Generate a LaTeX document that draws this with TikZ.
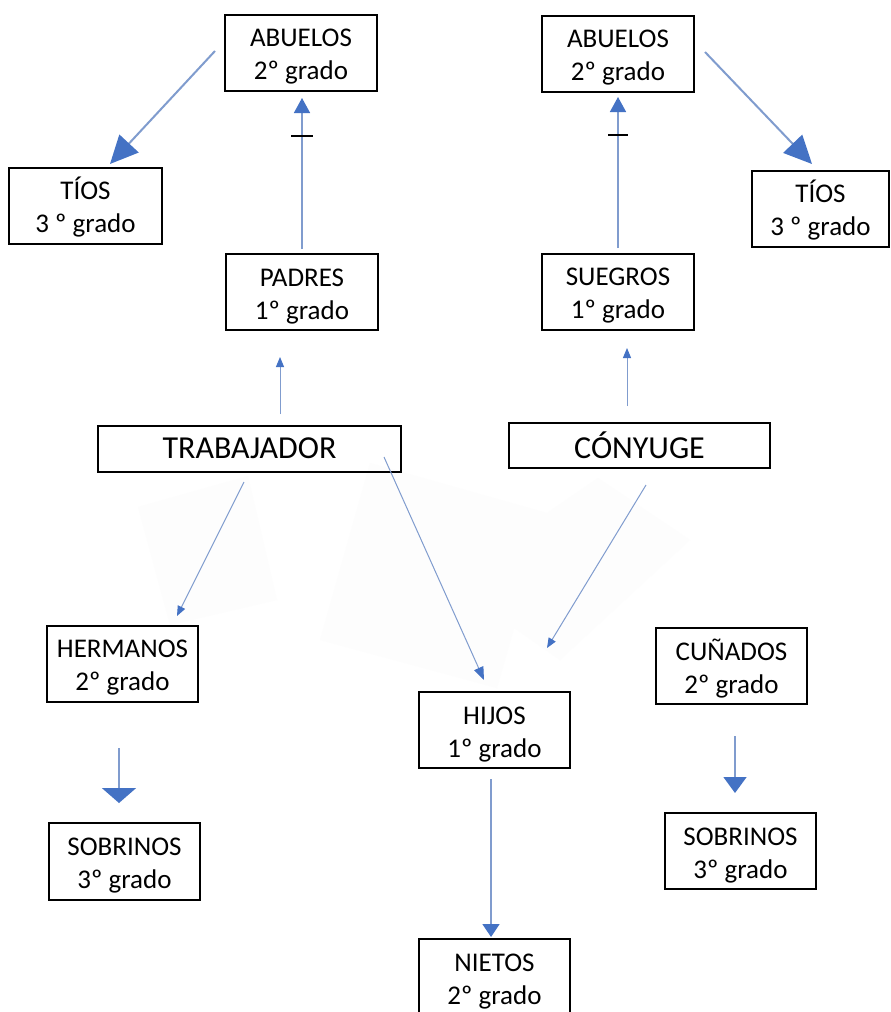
\documentclass[tikz,border=0pt]{standalone}
\usepackage{fontspec}
\setmainfont{Carlito}
\usetikzlibrary{arrows.meta}
\definecolor{lineblue}{RGB}{128,156,206}
\definecolor{headblue}{RGB}{68,114,196}
\definecolor{faint}{RGB}{253,253,253}
\newcommand{\tstrut}{\rule{0pt}{26pt}}
\tikzset{
  box/.style={draw=black, line width=2pt, align=center, inner sep=0pt,
    minimum width=152pt, minimum height=76pt, font=\fontsize{27}{33}\selectfont},
  bigbox/.style={draw=black, line width=2pt, align=center, inner sep=0pt,
    minimum height=46pt, font=\fontsize{32}{38}\selectfont},
  conn/.style={draw=lineblue, line width=1pt},
  tickmark/.style={draw=black, line width=2pt},
}
\begin{document}
\begin{tikzpicture}[x=1pt,y=-1pt]
\useasboundingbox (0,0) rectangle (891,1012);
\clip (0,0) rectangle (891,1012);
\fill[white] (0,0) rectangle (891,1012);
% faint background shapes
\fill[faint] (138,507) -- (248,476) -- (277,600) -- (170,625) -- cycle;
\fill[faint] (370,463) -- (547,513) -- (497,688) -- (320,640) -- cycle;
\fill[faint] (598,478) -- (690,540) -- (560,660) -- (510,625) -- (547,513) -- cycle;
% nodes
\node[box] (abL) at (301,52.5) {\tstrut ABUELOS\\2º grado};
\node[box] (abR) at (618,53.5) {\tstrut ABUELOS\\2º grado};
\node[box, minimum width=153pt] (tiL) at (85.5,205.5) {\tstrut TÍOS\\3 º grado};
\node[box, minimum width=137pt] (tiR) at (820.5,208.5) {\tstrut TÍOS\\3 º grado};
\node[box] (pad) at (302,292) {\tstrut PADRES\\1º grado};
\node[box] (sue) at (618,291.5) {\tstrut SUEGROS\\1º grado};
\node[bigbox, minimum width=303pt] (tra) at (249.5,448.5) {TRABAJADOR};
\node[bigbox, minimum width=261pt, minimum height=45pt] (con) at (639.5,445.5) {CÓNYUGE};
\node[box, minimum width=151pt] (her) at (122.5,663.5) {\tstrut HERMANOS\\2º grado};
\node[box, minimum width=151pt] (cun) at (731.5,666) {\tstrut CUÑADOS\\2º grado};
\node[box, minimum width=151pt] (hij) at (494.5,730) {\tstrut HIJOS\\1º grado};
\node[box, minimum width=151pt, minimum height=77pt] (sobL) at (124.5,861.5) {\tstrut SOBRINOS\\3º grado};
\node[box, minimum width=151pt] (sobR) at (740.5,851) {\tstrut SOBRINOS\\3º grado};
\node[box, minimum width=151pt, minimum height=77pt] (nie) at (494.5,977.5) {\tstrut NIETOS\\2º grado};
% connector end points
\coordinate (c1s) at (215,51);   \coordinate (c1e) at (110,164);
\coordinate (c2s) at (302,249);  \coordinate (c2e) at (302,98);
\coordinate (c3s) at (618,248);  \coordinate (c3e) at (618,97);
\coordinate (c4s) at (705,52);   \coordinate (c4e) at (812,164);
\coordinate (c5s) at (280,414);  \coordinate (c5e) at (280,357);
\coordinate (c6s) at (627,406);  \coordinate (c6e) at (627,348);
\coordinate (c7s) at (244,482);  \coordinate (c7e) at (177,616);
\coordinate (c8s) at (384,457);  \coordinate (c8e) at (484,680);
\coordinate (c9s) at (646,485);  \coordinate (c9e) at (547,648);
\coordinate (c10s) at (119,748); \coordinate (c10e) at (119,803);
\coordinate (c11s) at (735,736); \coordinate (c11e) at (735,793);
\coordinate (c12s) at (491,779); \coordinate (c12e) at (491,937);
% connectors
\draw[conn, line width=2pt, -{Triangle[length=28pt,width=26pt,color=headblue]}] (c1s) -- (c1e);
\draw[conn, line width=1.5pt, -{Triangle[length=15pt,width=16pt,color=headblue]}] (c2s) -- (c2e);
\draw[conn, line width=1.5pt, -{Triangle[length=15pt,width=16pt,color=headblue]}] (c3s) -- (c3e);
\draw[conn, line width=2pt, -{Triangle[length=28pt,width=26pt,color=headblue]}] (c4s) -- (c4e);
\draw[conn, -{Triangle[length=10pt,width=8pt,color=headblue]}] (c5s) -- (c5e);
\draw[conn, -{Triangle[length=10pt,width=8pt,color=headblue]}] (c6s) -- (c6e);
\draw[conn, -{Triangle[length=10pt,width=8pt,color=headblue]}] (c7s) -- (c7e);
\draw[conn, -{Triangle[length=13pt,width=10pt,color=headblue]}] (c8s) -- (c8e);
\draw[conn, -{Triangle[length=10pt,width=8pt,color=headblue]}] (c9s) -- (c9e);
\draw[conn, line width=2pt, -{Triangle[length=15pt,width=34pt,color=headblue]}] (c10s) -- (c10e);
\draw[conn, line width=1.5pt, -{Triangle[length=16pt,width=23pt,color=headblue]}] (c11s) -- (c11e);
\draw[conn, line width=1.5pt, -{Triangle[length=13pt,width=17pt,color=headblue]}] (c12s) -- (c12e);
% tick marks
\draw[tickmark] ([xshift=-11pt]c2s |- 0,136) -- ([xshift=11pt]c2s |- 0,136);
\draw[tickmark] ([xshift=-10pt]c3s |- 0,135) -- ([xshift=10pt]c3s |- 0,135);
\end{tikzpicture}
\end{document}
